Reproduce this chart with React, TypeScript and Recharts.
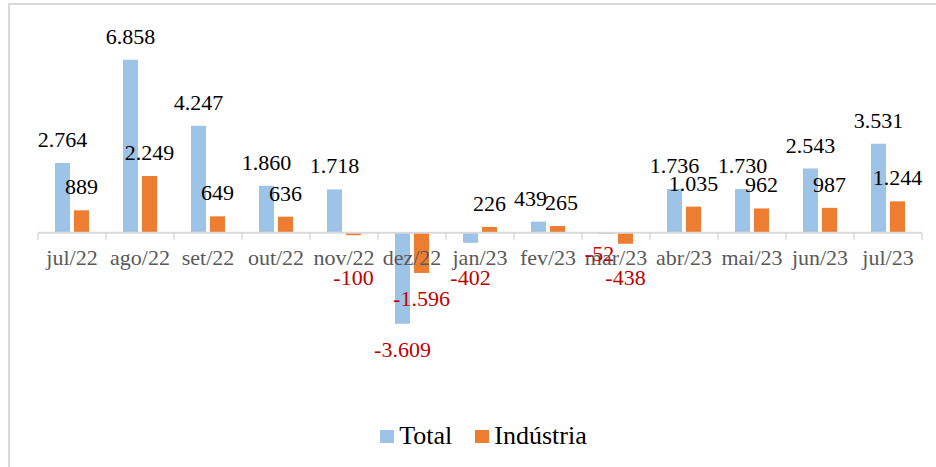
import { BarChart, Bar, XAxis, YAxis, LabelList, ReferenceLine } from "recharts";

/* ---------- data ---------- */
const months = [
  "jul/22", "ago/22", "set/22", "out/22", "nov/22", "dez/22", "jan/23",
  "fev/23", "mar/23", "abr/23", "mai/23", "jun/23", "jul/23",
];
const total = [2764, 6858, 4247, 1860, 1718, -3609, -402, 439, -52, 1736, 1730, 2543, 3531];
const industria = [889, 2249, 649, 636, -100, -1596, 226, 265, -438, 1035, 962, 987, 1244];

const data = months.map((m, i) => ({ month: m, total: total[i], industria: industria[i] }));

/* ---------- look ---------- */
const COLORS = { total: "#9DC3E6", industria: "#ED7D31", neg: "#C00000", tick: "#595959", grid: "#D9D9D9" };
const FONT = '"Liberation Serif", "Times New Roman", serif';

const W = 928;
const H = 464;
const M = { top: 28, right: 14, left: 30, bottom: 53 };
const X_AXIS_H = 30;
const DOMAIN: [number, number] = [-6000, 8000];
const PLOT_W = W - M.left - M.right;
const PLOT_H = H - M.top - M.bottom - X_AXIS_H;
const ZERO_Y = M.top + (PLOT_H * DOMAIN[1]) / (DOMAIN[1] - DOMAIN[0]);
const BAND = PLOT_W / months.length;

// a few labels were hand-moved in the original
const NUDGE: Record<string, { dx?: number; dy?: number }> = {
  "total-7": { dx: -8 },
  "industria-7": { dx: 4 },
  "total-8": { dx: -7, dy: -24 },
};

function fmt(n: number) {
  const s = Math.abs(n).toString().replace(/\B(?=(\d{3})+(?!\d))/g, ".");
  return (n < 0 ? "-" : "") + s;
}

function makeLabel(key: string) {
  return (props: any) => {
    const { x, y, width, height, value, index } = props;
    const v = Number(value);
    const top = Math.min(y, y + height);
    const bottom = Math.max(y, y + height);
    const nd = NUDGE[`${key}-${index}`] || {};
    const cx = x + width / 2 + (nd.dx || 0);
    let ty: number;
    if (v >= 0) {
      ty = top - 16;
    } else {
      ty = Math.max(bottom + 33, ZERO_Y + 52);
    }
    ty += nd.dy || 0;
    return (
      <text
        x={cx}
        y={ty}
        textAnchor="middle"
        fontFamily={FONT}
        fontSize={22}
        fill={v < 0 ? COLORS.neg : "#000"}
      >
        {fmt(v)}
      </text>
    );
  };
}

function MonthTick(props: any) {
  const { x, payload, index } = props;
  const last = index === months.length - 1;
  return (
    <g>
      <line x1={x - BAND / 2} x2={x - BAND / 2} y1={ZERO_Y} y2={ZERO_Y + 7} stroke={COLORS.grid} strokeWidth={1.5} />
      {last && (
        <line x1={x + BAND / 2} x2={x + BAND / 2} y1={ZERO_Y} y2={ZERO_Y + 7} stroke={COLORS.grid} strokeWidth={1.5} />
      )}
      <text x={x} y={ZERO_Y + 32} textAnchor="middle" fontFamily={FONT} fontSize={22} fill={COLORS.tick}>
        {payload.value}
      </text>
    </g>
  );
}

function LegendBox() {
  const item = (color: string, label: string) => (
    <div style={{ display: "flex", alignItems: "center", marginRight: 23 }}>
      <div style={{ width: 14, height: 13, background: color, marginRight: 5 }} />
      <span style={{ fontFamily: FONT, fontSize: 26, lineHeight: "26px", color: "#000" }}>{label}</span>
    </div>
  );
  return (
    <div style={{ display: "flex", justifyContent: "center", paddingLeft: 46 }}>
      {item(COLORS.total, "Total")}
      {item(COLORS.industria, "Indústria")}
    </div>
  );
}

export default function App() {
  return (
    <div>
      <div style={{ position: "absolute", left: 8, top: 3, width: W, height: 2, background: COLORS.grid }} />
      <div style={{ position: "absolute", left: 8, top: 3, width: 2, height: H, background: COLORS.grid }} />
      <div style={{ position: "absolute", left: 8, top: 3 }}>
        <BarChart width={W} height={H} data={data} margin={M} barGap={4} barCategoryGap="25%">
          <XAxis
            dataKey="month"
            height={X_AXIS_H}
            axisLine={false}
            tickLine={false}
            tickSize={0}
            interval={0}
            tick={<MonthTick />}
          />
          <YAxis hide domain={DOMAIN} />
          <ReferenceLine y={0} stroke={COLORS.grid} strokeWidth={2} />
          <Bar dataKey="total" name="Total" fill={COLORS.total} isAnimationActive={false}>
            <LabelList dataKey="total" content={makeLabel("total")} />
          </Bar>
          <Bar dataKey="industria" name="Indústria" fill={COLORS.industria} isAnimationActive={false}>
            <LabelList dataKey="industria" content={makeLabel("industria")} />
          </Bar>
        </BarChart>
      </div>
      <div style={{ position: "absolute", left: 8, top: 423, width: W }}>
        <LegendBox />
      </div>
    </div>
  );
}
